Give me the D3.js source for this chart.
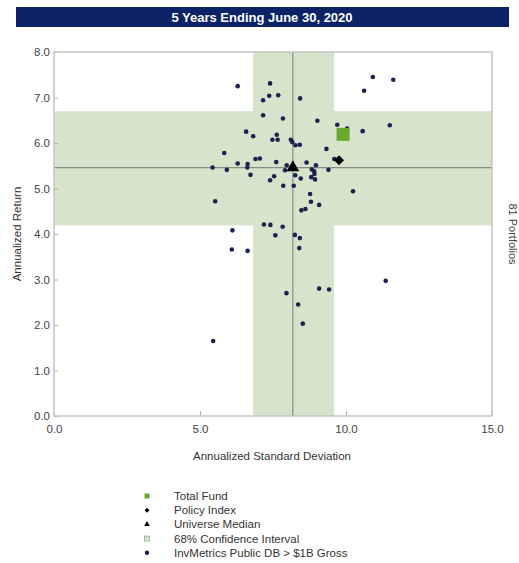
<!DOCTYPE html>
<html>
<head>
<meta charset="utf-8">
<script src="https://cdn.jsdelivr.net/npm/d3@7"></script>
<style>
  html, body { margin: 0; padding: 0; background: #fff; }
  svg { display: block; font-family: "Liberation Sans", Arial, sans-serif; }
</style>
</head>
<body>
<svg id="chart" width="519" height="563"></svg>
<script>
// ---- data ----
const title = "5 Years Ending June 30, 2020";
const xTicks = [0, 5, 10, 15];
const yTicks = [0, 1, 2, 3, 4, 5, 6, 7, 8];
const universeStdDev = [6.29,7.40,7.37,7.68,7.16,8.43,7.16,7.84,9.02,6.58,6.82,7.63,7.48,7.66,8.11,8.16,8.27,8.42,9.70,10.04,10.57,11.50,10.92,11.62,10.62,9.33,5.83,6.29,6.63,6.90,7.05,7.61,6.62,5.43,5.92,6.73,7.97,7.91,8.26,8.65,8.97,8.83,8.91,8.92,9.40,9.60,7.54,7.40,8.45,8.81,8.94,7.85,8.21,8.77,10.24,5.52,8.80,9.08,8.47,8.61,7.19,7.41,7.83,6.11,7.58,8.25,8.42,6.09,6.63,8.40,11.36,7.96,9.08,9.42,8.36,8.52,5.45];
const universeReturn = [7.25,7.31,7.04,7.05,6.94,6.98,6.61,6.54,6.49,6.25,6.15,6.18,6.07,6.07,6.07,6.02,5.95,5.96,6.40,6.32,6.26,6.39,7.45,7.39,7.15,5.87,5.78,5.55,5.54,5.65,5.66,5.58,5.46,5.46,5.41,5.30,5.51,5.40,5.29,5.57,5.51,5.42,5.38,5.32,5.41,5.65,5.27,5.18,5.22,5.25,5.20,5.06,5.06,4.88,4.94,4.72,4.71,4.64,4.52,4.55,4.21,4.20,4.16,4.08,3.97,3.98,3.91,3.66,3.63,3.69,2.97,2.70,2.80,2.78,2.45,2.03,1.65];
const totalFund = [9.90, 6.19];
const policyIndex = [9.76, 5.62];
const universeMedian = [8.18, 5.46];
const confX = [6.82, 9.59];
const confY = [4.19, 6.70];
const portfolioCount = "81 Portfolios";
const legendLabels = ["Total Fund", "Policy Index", "Universe Median", "68% Confidence Interval", "InvMetrics Public DB > $1B Gross"];

// ---- layout ----
const svg = d3.select("#chart");
const m = { left: 54, right: 492, top: 52, bottom: 416 };
const x = d3.scaleLinear().domain([0, 15]).range([m.left, m.right]);
const y = d3.scaleLinear().domain([0, 8]).range([m.bottom, m.top]);
const navy = "#0b2266", dot = "#1b2250", green = "#6aa82e", band = "#d5e4cb";

// title bar
svg.append("rect").attr("x", 16).attr("y", 7).attr("width", 493).attr("height", 20).attr("fill", navy);
svg.append("text").attr("x", 262).attr("y", 21.5).attr("text-anchor", "middle")
  .attr("fill", "#fff").attr("font-weight", "bold").attr("font-size", 13).text(title);

// confidence bands
svg.append("rect").attr("x", x(confX[0])).attr("y", m.top).attr("width", x(confX[1]) - x(confX[0]))
  .attr("height", m.bottom - m.top).attr("fill", band);
svg.append("rect").attr("x", m.left).attr("y", y(confY[1])).attr("width", m.right - m.left)
  .attr("height", y(confY[0]) - y(confY[1])).attr("fill", band);

// median lines
svg.append("line").attr("x1", x(universeMedian[0])).attr("x2", x(universeMedian[0]))
  .attr("y1", m.top).attr("y2", m.bottom).attr("stroke", "#858f85").attr("stroke-width", 1.2);
svg.append("line").attr("x1", m.left).attr("x2", m.right)
  .attr("y1", y(universeMedian[1])).attr("y2", y(universeMedian[1])).attr("stroke", "#858f85").attr("stroke-width", 1.2);

// axes (ticks inside)
const xAxis = svg.append("g").attr("transform", `translate(0,${m.bottom})`)
  .call(d3.axisBottom(x).tickValues(xTicks).tickSize(-5).tickPadding(9).tickFormat(d3.format(".1f")));
const yAxis = svg.append("g").attr("transform", `translate(${m.left},0)`)
  .call(d3.axisLeft(y).tickValues(yTicks).tickSize(-4).tickPadding(4).tickFormat(d3.format(".1f")));
[xAxis, yAxis].forEach(g => {
  g.select(".domain").remove();
  g.selectAll(".tick line").attr("stroke", "#b0b0b0");
  g.selectAll(".tick text").attr("fill", "#444").attr("font-size", 11.5).attr("font-family", "Liberation Sans, Arial, sans-serif");
});

// plot frame
svg.append("rect").attr("x", m.left).attr("y", m.top).attr("width", m.right - m.left)
  .attr("height", m.bottom - m.top).attr("fill", "none").attr("stroke", "#c4c4c4").attr("stroke-width", 1.5);

// universe dots
svg.append("g").selectAll("circle").data(universeStdDev.map((d, i) => [d, universeReturn[i]]))
  .join("circle").attr("cx", d => x(d[0])).attr("cy", d => y(d[1])).attr("r", 2.3).attr("fill", dot);

// universe median triangle
svg.append("path").attr("d", d3.symbol(d3.symbolTriangle, 70)())
  .attr("transform", `translate(${x(universeMedian[0])},${y(universeMedian[1])})`).attr("fill", "#000");
// policy index diamond (rotated square)
svg.append("path").attr("d", d3.symbol(d3.symbolSquare, 50)())
  .attr("transform", `translate(${x(policyIndex[0])},${y(policyIndex[1])}) rotate(45)`).attr("fill", "#000");
// total fund square
svg.append("rect").attr("x", x(totalFund[0]) - 6.5).attr("y", y(totalFund[1]) - 6.5)
  .attr("width", 13).attr("height", 13).attr("fill", green);

// axis titles
svg.append("text").attr("x", 272).attr("y", 460).attr("text-anchor", "middle")
  .attr("fill", "#333").attr("font-size", 11.5).text("Annualized Standard Deviation");
svg.append("text").attr("transform", "translate(21,234) rotate(-90)").attr("text-anchor", "middle")
  .attr("fill", "#333").attr("font-size", 11.5).text("Annualized Return");
svg.append("text").attr("transform", "translate(509,234) rotate(90)").attr("text-anchor", "middle")
  .attr("fill", "#444").attr("font-size", 11).text(portfolioCount);

// legend
const lg = svg.append("g");
const ly0 = 496, ldy = 14.2, lx = 147;
legendLabels.forEach((t, i) => {
  const cy = ly0 + i * ldy;
  lg.append("text").attr("x", 174).attr("y", cy + 4).attr("fill", "#333").attr("font-size", 11.5).text(t);
});
lg.append("rect").attr("x", lx - 2.5).attr("y", ly0 - 2.5).attr("width", 5).attr("height", 5).attr("fill", green);
lg.append("path").attr("d", d3.symbol(d3.symbolSquare, 12)()).attr("transform", `translate(${lx},${ly0 + ldy}) rotate(45)`).attr("fill", "#000");
lg.append("path").attr("d", d3.symbol(d3.symbolTriangle, 14)()).attr("transform", `translate(${lx},${ly0 + 2 * ldy})`).attr("fill", "#000");
lg.append("rect").attr("x", lx - 2.5).attr("y", ly0 + 3 * ldy - 2.5).attr("width", 5).attr("height", 5)
  .attr("fill", band).attr("stroke", "#9aa89a").attr("stroke-width", 0.8);
lg.append("circle").attr("cx", lx).attr("cy", ly0 + 4 * ldy).attr("r", 2.2).attr("fill", dot);
</script>
</body>
</html>
